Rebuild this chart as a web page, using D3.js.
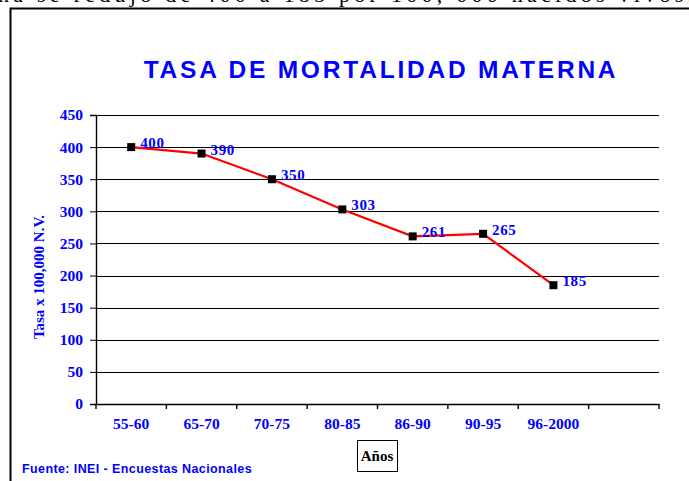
<!DOCTYPE html>
<html>
<head>
<meta charset="utf-8">
<script src="https://cdn.jsdelivr.net/npm/d3@7"></script>
<style>
  body { margin: 0; background: #fff; }
  svg { display: block; }
</style>
</head>
<body>
<div id="wrapper"></div>
<script>
// data
const periods = ["55-60", "65-70", "70-75", "80-85", "86-90", "90-95", "96-2000"]
const rates = [400, 390, 350, 303, 261, 265, 185]
const yTicks = [0, 50, 100, 150, 200, 250, 300, 350, 400, 450]

const blue = "#0000ff"
const serif = "'Liberation Serif', 'Times New Roman', serif"
const sans = "'Liberation Sans', Arial, sans-serif"

const dimensions = {
  width: 689,
  height: 481,
  margins: { top: 115, right: 30, bottom: 77, left: 96 },
}
dimensions.boundedWidth = dimensions.width - dimensions.margins.left - dimensions.margins.right
dimensions.boundedHeight = dimensions.height - dimensions.margins.top - dimensions.margins.bottom

const svg = d3.select("#wrapper").append("svg")
  .attr("width", dimensions.width)
  .attr("height", dimensions.height)

// cut-off line of text from the page above
svg.append("text")
  .attr("x", -2).attr("y", 2)
  .attr("font-family", serif).attr("font-size", 22)
  .attr("textLength", 695)
  .text("na se redujo de 400 a 185 por 100, 000 nacidos vivos.")

// frame (right and bottom edges run off the page)
svg.append("path")
  .attr("d", "M10.5,481 V8.5 H700")
  .attr("fill", "none").attr("stroke", "#000").attr("stroke-width", 2)

svg.append("text")
  .attr("x", 381).attr("y", 78)
  .attr("text-anchor", "middle")
  .attr("font-family", sans).attr("font-weight", "bold")
  .attr("font-size", 24.5).attr("letter-spacing", 2.8)
  .attr("fill", blue)
  .text("TASA DE MORTALIDAD MATERNA")

const bounds = svg.append("g")
  .attr("transform", `translate(${dimensions.margins.left},${dimensions.margins.top})`)

// an empty eighth slot sits at the right end of the axis
const xScale = d3.scaleBand()
  .domain([...periods, ""])
  .range([0, 563])

const yScale = d3.scaleLinear()
  .domain([0, 450])
  .range([289, 0])

// grid
bounds.append("g")
  .selectAll("line")
  .data(yTicks)
  .join("line")
  .attr("x1", 0).attr("x2", 563)
  .attr("y1", d => Math.round(yScale(d)) + 0.5)
  .attr("y2", d => Math.round(yScale(d)) + 0.5)
  .attr("stroke", "#000").attr("stroke-width", 1.2)

const yAxis = bounds.append("g")
  .call(d3.axisLeft(yScale).tickValues(yTicks).tickSize(6).tickPadding(7).tickFormat(d3.format("d")))
yAxis.select(".domain").attr("stroke-width", 1.4)
yAxis.selectAll("text")
  .attr("font-family", serif).attr("font-weight", "bold")
  .attr("font-size", 15.5).attr("fill", blue)

const xAxis = bounds.append("g")
  .attr("transform", `translate(0,${yScale(0)})`)
  .call(d3.axisBottom(xScale).tickSize(0).tickPadding(14))
xAxis.select(".domain").attr("stroke-width", 1.4)
xAxis.selectAll("text")
  .attr("font-family", serif).attr("font-weight", "bold")
  .attr("font-size", 15.5).attr("fill", blue)
// ticks between categories
xAxis.append("g")
  .selectAll("line")
  .data(xScale.domain().concat(["end"]))
  .join("line")
  .attr("x1", (d, i) => i * xScale.step())
  .attr("x2", (d, i) => i * xScale.step())
  .attr("y1", 0).attr("y2", 5)
  .attr("stroke", "#000").attr("stroke-width", 1.4)

// series
const xAccessor = (d, i) => xScale(periods[i]) + xScale.bandwidth() / 2
const line = d3.line()
  .x((d, i) => xAccessor(d, i))
  .y(d => yScale(d))

bounds.append("path")
  .attr("d", line(rates))
  .attr("fill", "none")
  .attr("stroke", "#ff0000").attr("stroke-width", 2.2)

bounds.append("g")
  .selectAll("rect")
  .data(rates)
  .join("rect")
  .attr("x", (d, i) => xAccessor(d, i) - 4)
  .attr("y", d => yScale(d) - 4)
  .attr("width", 8).attr("height", 8)
  .attr("fill", "#000")

bounds.append("g")
  .selectAll("text")
  .data(rates)
  .join("text")
  .attr("x", (d, i) => xAccessor(d, i) + 9)
  .attr("y", d => yScale(d) + 1)
  .attr("font-family", serif).attr("font-weight", "bold")
  .attr("font-size", 15).attr("letter-spacing", 0.6).attr("fill", blue)
  .text(d => d)

// axis titles
svg.append("text")
  .attr("transform", "translate(44,277) rotate(-90)")
  .attr("text-anchor", "middle")
  .attr("font-family", serif).attr("font-weight", "bold")
  .attr("font-size", 15).attr("fill", blue)
  .text("Tasa x 100,000 N.V.")

svg.append("rect")
  .attr("x", 357.5).attr("y", 440.5)
  .attr("width", 40).attr("height", 31)
  .attr("fill", "none").attr("stroke", "#000").attr("stroke-width", 1)
svg.append("text")
  .attr("x", 377).attr("y", 461)
  .attr("text-anchor", "middle")
  .attr("font-family", serif).attr("font-weight", "bold")
  .attr("font-size", 15).attr("fill", "#000")
  .text("Años")

svg.append("text")
  .attr("x", 22).attr("y", 473)
  .attr("font-family", sans).attr("font-weight", "bold")
  .attr("font-size", 12.5).attr("letter-spacing", 0.4).attr("fill", blue)
  .text("Fuente: INEI - Encuestas Nacionales")
</script>
</body>
</html>
